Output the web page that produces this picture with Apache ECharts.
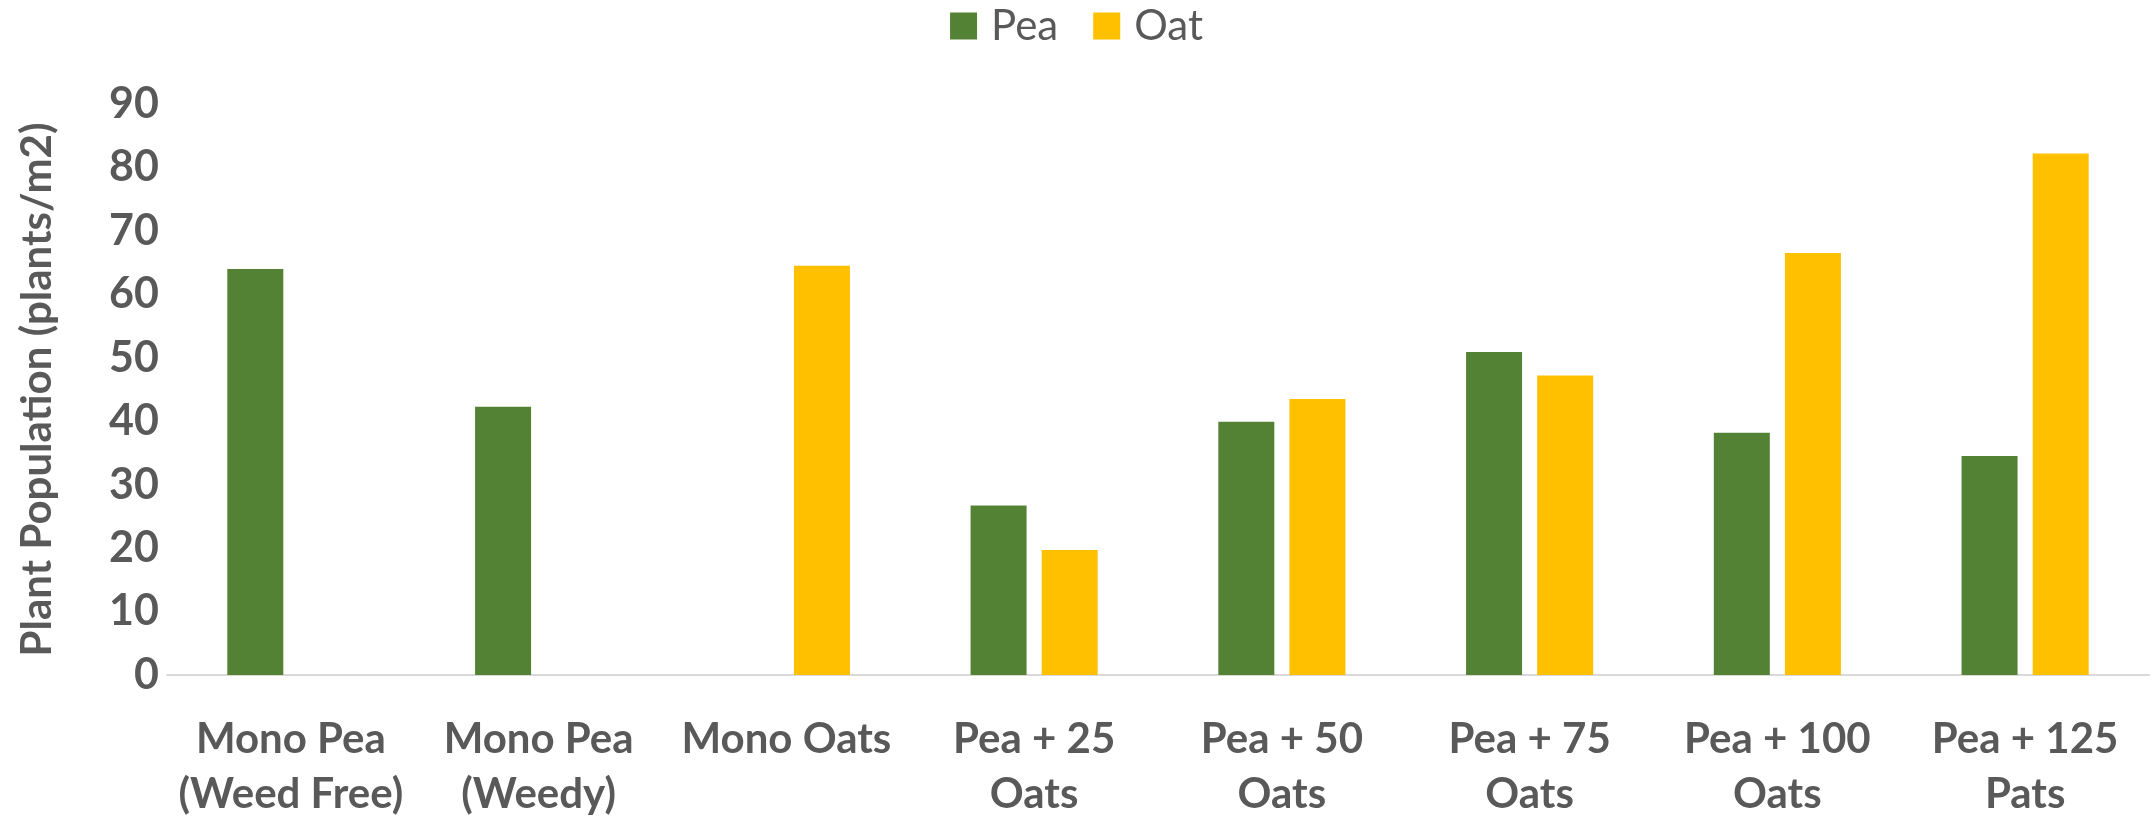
<!DOCTYPE html>
<html>
<head>
<meta charset="utf-8">
<script src="https://cdn.jsdelivr.net/npm/echarts@6/dist/echarts.min.js"></script>
<style>html,body{margin:0;padding:0;background:#fff}#c{width:2153px;height:822px}</style>
</head>
<body>
<div id="c"></div>
<script>
const categories = ['Mono Pea\n(Weed Free)', 'Mono Pea\n(Weedy)', 'Mono Oats', 'Pea + 25\nOats', 'Pea + 50\nOats', 'Pea + 75\nOats', 'Pea + 100\nOats', 'Pea + 125\nPats'];
const peaValues = [64.0, 42.3, null, 26.7, 39.9, 50.9, 38.2, 34.5];
const oatValues = [null, null, 64.5, 19.7, 43.5, 47.2, 66.5, 82.2];
const seriesNames = ['Pea', 'Oat'];
const yAxisTitle = 'Plant Population (plants/m2)';

const FONT = 'Lato';
const chart = echarts.init(document.getElementById('c'), null, {renderer: 'canvas'});
chart.setOption({
  animation: false,
  backgroundColor: '#ffffff',
  legend: {
    top: 0,
    left: 'center',
    itemWidth: 27,
    itemHeight: 27,
    itemGap: 35,
    icon: 'rect',
    textStyle: {fontFamily: FONT, fontSize: 42, color: '#595959', padding: [0, 0, 0, 9]},
    data: seriesNames
  },
  grid: {left: 167, right: 4, top: 104, bottom: 147, containLabel: false},
  xAxis: {
    type: 'category',
    data: categories,
    axisLine: {show: true, lineStyle: {color: '#d9d9d9', width: 2}},
    axisTick: {show: false},
    axisLabel: {
      interval: 0,
      margin: 37,
      fontFamily: FONT,
      fontWeight: 'bold',
      fontSize: 42,
      lineHeight: 55,
      color: '#595959'
    }
  },
  yAxis: {
    type: 'value',
    min: 0,
    max: 90,
    interval: 10,
    axisLine: {show: false},
    axisTick: {show: false},
    splitLine: {show: false},
    axisLabel: {
      margin: 8,
      fontFamily: FONT,
      fontWeight: 'bold',
      fontSize: 43,
      color: '#595959'
    },
    name: yAxisTitle,
    nameLocation: 'middle',
    nameGap: 109,
    nameTextStyle: {fontFamily: FONT, fontWeight: 'bold', fontSize: 42, color: '#595959'}
  },
  series: [
    {name: seriesNames[0], type: 'bar', data: peaValues, barWidth: 56, barGap: '27%',
     itemStyle: {color: '#548235'}},
    {name: seriesNames[1], type: 'bar', data: oatValues, barWidth: 56, barGap: '27%',
     itemStyle: {color: '#FFC000'}}
  ]
});
</script>
</body>
</html>
